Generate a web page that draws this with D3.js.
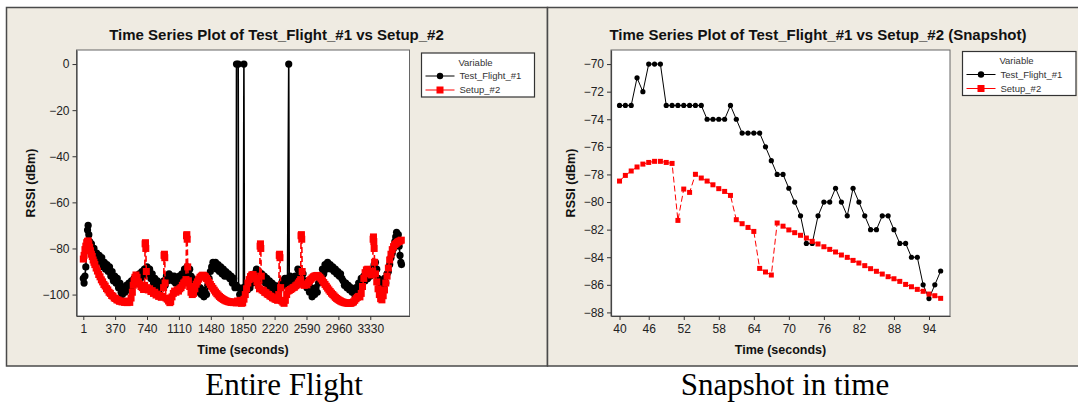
<!DOCTYPE html>
<html><head><meta charset="utf-8">
<script src="https://cdn.jsdelivr.net/npm/d3@7"></script>
<style>body{margin:0;background:#fff}svg{display:block}</style>
</head><body>
<svg id="c" width="1078" height="402"></svg>
<script>
// ---------- data ----------
const seriesNames = ["Test_Flight_#1", "Setup_#2"];
const legendTitle = "Variable";
const titles = ["Time Series Plot of Test_Flight_#1 vs Setup_#2",
                "Time Series Plot of Test_Flight_#1 vs Setup_#2 (Snapshot)"];
const xLabel = "Time (seconds)";
const yLabel = "RSSI (dBm)";
const captions = ["Entire Flight", "Snapshot in time"];

// Entire flight
const flightTicksX = [1, 370, 740, 1110, 1480, 1850, 2220, 2590, 2960, 3330];
const flightTicksY = [0, -20, -40, -60, -80, -100];
const flightTest = [[1,-93],[10,-95],[20,-92],[30,-88],[40,-80],[50,-72],[57,-70],[65,-74],[75,-77],[85,-80],[95,-78],[110,-82],[125,-80],[140,-84],[155,-82],[170,-85],[185,-83],[200,-86],[215,-84],[230,-88],[245,-86],[260,-89],[275,-87],[290,-90],[305,-88],[320,-92],[335,-90],[350,-94],[365,-92],[380,-95],[395,-93],[410,-97],[425,-95],[440,-99],[455,-100],[470,-97],[485,-99],[500,-96],[515,-98],[530,-95],[545,-97],[560,-94],[575,-96],[590,-93],[605,-95],[620,-92],[635,-94],[650,-91],[665,-93],[680,-90],[695,-92],[710,-89],[725,-91],[740,-88],[755,-91],[770,-89],[785,-93],[800,-91],[815,-95],[830,-93],[845,-96],[860,-94],[875,-98],[890,-96],[905,-95],[920,-97],[935,-94],[950,-96],[965,-92],[980,-94],[995,-91],[1010,-93],[1025,-92],[1040,-94],[1055,-92],[1070,-95],[1085,-93],[1100,-95],[1115,-92],[1130,-94],[1145,-91],[1160,-93],[1175,-89],[1190,-91],[1205,-88],[1220,-90],[1235,-89],[1250,-92],[1265,-93],[1280,-96],[1295,-95],[1310,-98],[1325,-96],[1340,-99],[1355,-97],[1370,-100],[1385,-98],[1400,-101],[1415,-99],[1430,-100],[1445,-96],[1460,-93],[1475,-90],[1490,-88],[1505,-86],[1520,-88],[1535,-86],[1550,-89],[1565,-87],[1580,-90],[1595,-88],[1610,-91],[1625,-89],[1640,-92],[1655,-90],[1670,-92],[1685,-91],[1700,-93],[1715,-92],[1730,-95],[1745,-93],[1760,-97],[1775,-96],[1778,0],[1798,0],[1802,-97],[1815,-100],[1830,-98],[1845,-100],[1858,-97],[1864,0],[1870,-98],[1890,-96],[1905,-98],[1920,-95],[1935,-97],[1950,-93],[1965,-95],[1980,-91],[1995,-93],[2010,-89],[2025,-92],[2040,-90],[2055,-93],[2070,-91],[2085,-94],[2100,-92],[2115,-95],[2130,-93],[2145,-96],[2160,-94],[2175,-97],[2190,-95],[2205,-98],[2220,-96],[2235,-99],[2250,-97],[2265,-99],[2280,-96],[2295,-97],[2310,-94],[2325,-96],[2340,-93],[2355,-95],[2370,-93],[2384,0],[2390,-94],[2400,-92],[2415,-95],[2430,-93],[2445,-95],[2460,-92],[2475,-94],[2490,-89],[2505,-91],[2520,-90],[2535,-93],[2550,-91],[2565,-95],[2580,-94],[2595,-97],[2610,-96],[2625,-99],[2640,-97],[2655,-101],[2670,-99],[2685,-100],[2700,-97],[2715,-99],[2730,-95],[2745,-92],[2760,-94],[2775,-89],[2790,-91],[2805,-87],[2820,-89],[2835,-86],[2850,-88],[2865,-87],[2880,-89],[2895,-88],[2910,-90],[2925,-89],[2940,-91],[2955,-90],[2970,-92],[2985,-91],[3000,-93],[3015,-94],[3030,-96],[3045,-95],[3060,-97],[3075,-96],[3090,-98],[3105,-97],[3120,-99],[3135,-98],[3150,-100],[3165,-97],[3180,-98],[3195,-95],[3210,-96],[3225,-93],[3240,-95],[3255,-92],[3270,-94],[3285,-91],[3300,-93],[3315,-90],[3330,-92],[3345,-89],[3360,-90],[3375,-87],[3390,-86],[3405,-89],[3420,-93],[3435,-95],[3450,-97],[3465,-95],[3480,-96],[3495,-93],[3510,-95],[3525,-91],[3540,-90],[3555,-87],[3570,-84],[3585,-82],[3600,-80],[3615,-77],[3625,-75],[3635,-73],[3645,-76],[3655,-74],[3665,-79],[3675,-83],[3685,-86],[3692,-87]];
const flightSetup = [[1,-84.6],[10,-83],[20,-80.5],[30,-79],[40,-77.5],[50,-77],[57,-76.7],[65,-78],[75,-79.5],[85,-81],[95,-82.5],[105,-83.5],[115,-85],[125,-86],[135,-87],[150,-88.5],[165,-89.8],[180,-91.3],[195,-92.3],[210,-93.6],[225,-94.5],[240,-95.6],[255,-96.3],[270,-97.4],[285,-98],[300,-99],[315,-99.5],[330,-100.4],[345,-100.7],[360,-101.5],[375,-101.7],[390,-102.3],[405,-102.4],[420,-102.9],[435,-102.8],[450,-103.2],[465,-103],[480,-103.4],[495,-103.1],[510,-103.5],[525,-102.8],[540,-103.4],[555,-101.5],[570,-99],[580,-96],[590,-94],[600,-92.5],[612,-91.5],[625,-92.5],[640,-94.5],[655,-95.5],[670,-96.5],[685,-97],[700,-97.8],[712,-96],[718,-78],[722,-77.5],[726,-80],[732,-90],[740,-97],[755,-98],[770,-97.5],[785,-98.7],[800,-98.3],[815,-99.5],[830,-99],[845,-100.2],[860,-99.8],[875,-100.8],[890,-100.4],[905,-101.2],[920,-100.8],[932,-97],[938,-83],[942,-82.5],[946,-84],[950,-95],[960,-101.5],[975,-102],[990,-102.8],[1005,-103.5],[1015,-103],[1030,-101],[1045,-99.5],[1060,-98.5],[1075,-99],[1090,-98],[1105,-98.5],[1120,-97.5],[1135,-97],[1150,-96],[1165,-95],[1180,-94.5],[1192,-93.5],[1198,-74.5],[1202,-74],[1206,-76],[1212,-88],[1220,-94],[1235,-96.5],[1250,-99],[1265,-100],[1280,-99.5],[1295,-97.5],[1310,-95.5],[1325,-94.5],[1340,-93.3],[1355,-92.5],[1370,-92],[1385,-91.6],[1400,-91.7],[1415,-92.2],[1430,-93],[1445,-93.8],[1460,-94.7],[1475,-95.6],[1490,-96.5],[1505,-97.3],[1520,-98.1],[1535,-98.9],[1550,-99.6],[1565,-100.2],[1580,-100.8],[1595,-101.3],[1610,-101.7],[1625,-102.1],[1640,-102.4],[1655,-102.7],[1670,-102.9],[1685,-103.1],[1700,-103.2],[1715,-103.4],[1730,-103.3],[1745,-103.5],[1760,-103.2],[1775,-103.6],[1790,-102.8],[1805,-103.5],[1820,-102.5],[1835,-103.8],[1850,-103.6],[1865,-102],[1880,-100],[1895,-97.5],[1910,-95],[1925,-93.5],[1940,-92.2],[1955,-91.5],[1970,-91.3],[1985,-92],[2000,-93],[2015,-94.5],[2030,-96],[2045,-97.5],[2052,-79],[2056,-78],[2060,-80],[2066,-92],[2075,-98],[2090,-98.3],[2105,-99],[2120,-99.2],[2135,-99.8],[2150,-100],[2165,-100.6],[2180,-100.8],[2195,-101.4],[2210,-101.5],[2225,-102],[2240,-102.1],[2255,-102.5],[2268,-100],[2274,-83],[2278,-82.5],[2282,-84],[2290,-97],[2300,-102.7],[2315,-103.3],[2330,-103.8],[2345,-102.5],[2360,-100],[2375,-98.5],[2390,-98.2],[2405,-97.8],[2420,-97.5],[2435,-97],[2450,-96.8],[2465,-96.2],[2480,-95.8],[2495,-95],[2510,-94.3],[2522,-93.5],[2527,-74.5],[2531,-74],[2535,-76],[2540,-90],[2550,-95.5],[2565,-96],[2580,-95.5],[2595,-95.8],[2610,-94.8],[2625,-94],[2640,-93.4],[2655,-92.8],[2670,-92.3],[2685,-92],[2700,-91.8],[2715,-91.7],[2730,-92],[2745,-92.5],[2760,-93.2],[2775,-94],[2790,-94.8],[2805,-95.6],[2820,-96.4],[2835,-97.2],[2850,-98],[2865,-98.7],[2880,-99.4],[2895,-100],[2910,-100.6],[2925,-101.2],[2940,-101.7],[2955,-102.1],[2970,-102.5],[2985,-102.8],[3000,-103.1],[3015,-103.3],[3030,-103.5],[3045,-103.6],[3060,-103.7],[3075,-103.8],[3090,-103.7],[3105,-103.8],[3120,-103.5],[3135,-103.2],[3150,-102.5],[3165,-101.8],[3180,-101.2],[3195,-100.8],[3210,-101],[3225,-99.5],[3240,-96.5],[3255,-93],[3270,-90.5],[3285,-89.3],[3300,-89],[3315,-90],[3330,-91],[3345,-91.5],[3358,-90],[3363,-76],[3367,-75],[3371,-77],[3375,-80],[3380,-86],[3390,-91],[3405,-94.5],[3420,-97.5],[3435,-100],[3450,-101.8],[3465,-102.3],[3480,-100.5],[3495,-98],[3510,-95],[3525,-92],[3540,-88.5],[3555,-85],[3570,-82.5],[3585,-80.5],[3600,-79.2],[3615,-78.3],[3630,-77.8],[3645,-77.3],[3660,-77],[3675,-76.7],[3690,-76.4]];

// Snapshot (plotted by observation order, labelled with time stamp)
const snapTime = [40,42,43,44,45,46,47,48,49,50,51,52,53,54,55,56,57,58,59,60,61,62,63,64,65,66,67,68,69,70,71,72,73,74,75,76,77,78,79,80,81,82,83,84,85,86,87,88,89,90,91,92,93,94,95,96];
const snapTest = [-73,-73,-73,-71,-72,-70,-70,-70,-73,-73,-73,-73,-73,-73,-73,-74,-74,-74,-74,-73,-74,-75,-75,-75,-75,-76,-77,-78,-78,-79,-80,-81,-83,-83,-81,-80,-80,-79,-80,-81,-79,-80,-81,-82,-82,-81,-81,-82,-83,-83,-84,-84,-86,-87,-86,-85];
const snapSetup = [-78.48,-78.07,-77.75,-77.46,-77.25,-77.13,-77.05,-77.05,-77.13,-77.2,-81.33,-79.06,-79.3,-77.99,-78.26,-78.48,-78.75,-79.03,-79.23,-79.52,-81.28,-81.57,-81.84,-82.13,-84.81,-85.07,-85.29,-81.52,-81.75,-82.02,-82.22,-82.41,-82.61,-82.85,-83.04,-83.24,-83.43,-83.62,-83.84,-84.01,-84.23,-84.42,-84.61,-84.83,-85.02,-85.22,-85.41,-85.56,-85.75,-85.97,-86.14,-86.33,-86.47,-86.67,-86.79,-86.98];
const snapTicksX = [40,46,52,58,64,70,76,82,88,94];
const snapTicksY = [-70,-72,-74,-76,-78,-80,-82,-84,-86,-88];

// ---------- drawing ----------
const svg = d3.select("#c");
const BG = "#EFEBE2";
const SANS = "'Liberation Sans', Arial, sans-serif";

function drawPanel(o) {
  const g = svg.append("g");
  g.append("rect").attr("x", o.frame[0]).attr("y", o.frame[1])
    .attr("width", o.frame[2]).attr("height", o.frame[3])
    .attr("fill", BG).attr("stroke", "#4a4a4a").attr("stroke-width", 1.5);
  g.append("text").attr("x", o.titleX).attr("y", 39.5).attr("text-anchor", "middle")
    .attr("font-family", SANS).attr("font-weight", "bold").attr("font-size", 15)
    .attr("fill", "#111").text(o.title);

  const [x0, x1] = o.x.range(), [y1, y0] = o.y.range();
  g.append("rect").attr("x", x0).attr("y", y0).attr("width", x1 - x0).attr("height", y1 - y0)
    .attr("fill", "#fff").attr("stroke", "#666").attr("stroke-width", 1);

  const ax = g.append("g").attr("transform", `translate(0,${y1})`)
    .call(d3.axisBottom(o.x).tickValues(o.xTicks).tickFormat(o.xFmt).tickSize(4).tickPadding(4).tickSizeOuter(0));
  const ay = g.append("g").attr("transform", `translate(${x0},0)`)
    .call(d3.axisLeft(o.y).tickValues(o.yTicks).tickSize(4).tickPadding(3).tickSizeOuter(0));
  [ax, ay].forEach(a => {
    a.selectAll("text").attr("font-family", SANS).attr("font-size", 12).attr("fill", "#222");
    a.selectAll("line").attr("stroke", "#333");
    a.select(".domain").attr("stroke", "#444").attr("stroke-width", 1.2);
  });

  g.append("text").attr("x", (x0 + x1) / 2).attr("y", 353.5).attr("text-anchor", "middle")
    .attr("font-family", SANS).attr("font-weight", "bold").attr("font-size", 12.5)
    .attr("fill", "#111").text(xLabel);
  g.append("text").attr("transform", `translate(${o.yLabelX},${(y0 + y1) / 2}) rotate(-90)`)
    .attr("text-anchor", "middle").attr("dy", "0.35em")
    .attr("font-family", SANS).attr("font-weight", "bold").attr("font-size", 12.5)
    .attr("fill", "#111").text(yLabel);

  const clip = "clip" + o.id;
  g.append("clipPath").attr("id", clip).append("rect")
    .attr("x", x0).attr("y", y0).attr("width", x1 - x0).attr("height", y1 - y0);
  const plot = g.append("g").attr("clip-path", `url(#${clip})`);
  const line = d3.line().x(d => o.x(d[0])).y(d => o.y(d[1]));

  // Test_Flight_#1 : black, solid, circles
  plot.append("path").datum(o.test).attr("d", line).attr("fill", "none")
    .attr("stroke", "#000").attr("stroke-width", o.lw);
  plot.append("g").selectAll("circle").data(o.test).join("circle")
    .attr("cx", d => o.x(d[0])).attr("cy", d => o.y(d[1])).attr("r", o.r).attr("fill", "#000");
  // Setup_#2 : red, dashed, squares
  plot.append("path").datum(o.setup).attr("d", line).attr("fill", "none")
    .attr("stroke", "#f00").attr("stroke-width", o.lw).attr("stroke-dasharray", "6,3");
  plot.append("g").selectAll("rect").data(o.setup).join("rect")
    .attr("x", d => o.x(d[0]) - o.s / 2).attr("y", d => o.y(d[1]) - o.s / 2)
    .attr("width", o.s).attr("height", o.s).attr("fill", "#f00");

  // legend
  const L = o.legend;
  const lg = g.append("g");
  lg.append("rect").attr("x", L[0]).attr("y", L[1]).attr("width", L[2]).attr("height", L[3])
    .attr("fill", "#fff").attr("stroke", "#333").attr("stroke-width", 1.2);
  lg.append("text").attr("x", L[0] + 54).attr("y", L[1] + 12.5).attr("text-anchor", "middle")
    .attr("font-family", SANS).attr("font-size", 9.5).attr("fill", "#333").text(legendTitle);
  seriesNames.forEach((name, i) => {
    const yy = L[1] + 23 + i * 14, lx = L[0] + 4;
    const row = lg.append("g");
    row.append("line").attr("x1", lx).attr("x2", lx + 29).attr("y1", yy).attr("y2", yy)
      .attr("stroke", i ? "#f00" : "#000").attr("stroke-width", 1);
    if (i === 0) row.append("circle").attr("cx", lx + 14.5).attr("cy", yy).attr("r", 3.2).attr("fill", "#000");
    else row.append("rect").attr("x", lx + 14.5 - 3.5).attr("y", yy - 3.5).attr("width", 7).attr("height", 7).attr("fill", "#f00");
    row.append("text").attr("x", lx + 34).attr("y", yy + 3.4)
      .attr("font-family", SANS).attr("font-size", 9.5).attr("fill", "#333").text(name);
  });
}

// Entire flight panel
drawPanel({
  id: "L", frame: [6.5, 7.5, 541, 358.5], titleX: 276.5, title: titles[0],
  x: d3.scaleLinear().domain([-78, 3785]).range([76.5, 409.5]),
  y: d3.scaleLinear().domain([-109.3, 6.1]).range([316, 50]),
  xTicks: flightTicksX, xFmt: d => d, yTicks: flightTicksY,
  yLabelX: 30.5, test: flightTest, setup: flightSetup, r: 3.6, s: 7, lw: 1.6,
  legend: [421.5, 53, 113, 44]
});

// Snapshot panel (x = observation index, labels = time stamps)
const snapIdx = snapTime.map((t, i) => i);
drawPanel({
  id: "R", frame: [547.5, 7.5, 545, 358.5], titleX: 818, title: titles[1],
  x: d3.scaleLinear().domain([-1.46, 56.6]).range([611, 950]),
  y: d3.scaleLinear().domain([-88.26, -68.98]).range([316, 50]),
  xTicks: snapTicksX.map(t => snapTime.indexOf(t)), xFmt: i => snapTime[i], yTicks: snapTicksY,
  yLabelX: 571, test: snapIdx.map(i => [i, snapTest[i]]), setup: snapIdx.map(i => [i, snapSetup[i]]),
  r: 2.6, s: 5, lw: 1,
  legend: [962.5, 51.5, 113.5, 44]
});

// captions
[[284, captions[0]], [785, captions[1]]].forEach(([cx, t]) => {
  svg.append("text").attr("x", cx).attr("y", 395).attr("text-anchor", "middle")
    .attr("font-family", "'Liberation Serif', 'Times New Roman', serif").attr("font-size", 31)
    .attr("fill", "#000").text(t);
});
</script>
</body></html>
